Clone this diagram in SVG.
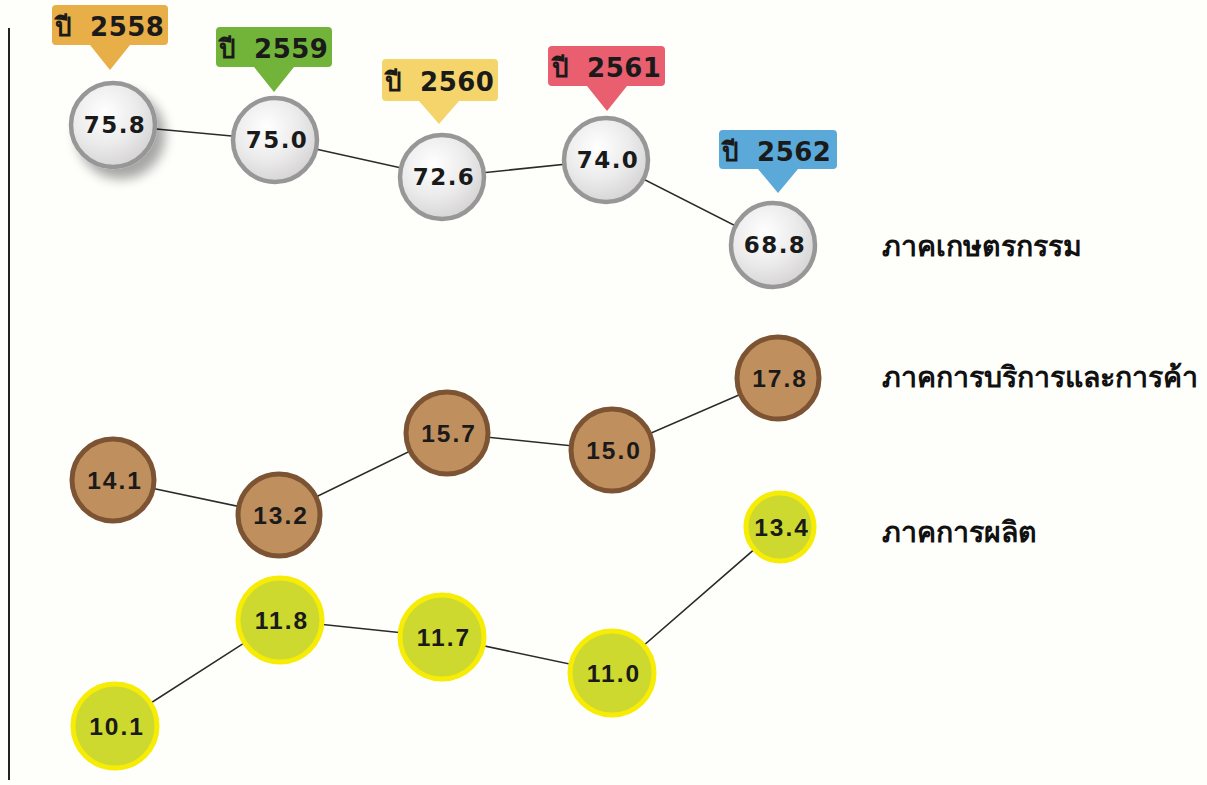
<svg xmlns="http://www.w3.org/2000/svg" width="1207" height="785" viewBox="0 0 1207 785">
<defs>
<radialGradient id="gw" cx="0.4" cy="0.35" r="0.7">
<stop offset="0" stop-color="#ffffff"/>
<stop offset="0.55" stop-color="#ecebeb"/>
<stop offset="1" stop-color="#d3d1d1"/>
</radialGradient>
<filter id="sh" x="-50%" y="-50%" width="200%" height="200%">
<feGaussianBlur in="SourceAlpha" stdDeviation="6"/>
<feOffset dx="8" dy="10" result="b"/>
<feComponentTransfer><feFuncA type="linear" slope="0.35"/></feComponentTransfer>
<feMerge><feMergeNode/><feMergeNode in="SourceGraphic"/></feMerge>
</filter>
</defs>
<style>
.g{fill:url(#gw);stroke:#979797;stroke-width:4.5}
.b{fill:#C08F5E;stroke:#7C5434;stroke-width:5}
.y{fill:#CDD92E;stroke:#F6EC05;stroke-width:5}
.gn{font-family:"DejaVu Sans",sans-serif;font-weight:bold;font-size:23px;fill:#1a1a1a;text-anchor:middle;letter-spacing:1.5px}
.bn{font-family:"Liberation Sans",Arial,sans-serif;font-weight:bold;font-size:24.5px;fill:#1a1a1a;text-anchor:middle;letter-spacing:2px}
.yr{font-family:"DejaVu Sans","Noto Sans",sans-serif;font-weight:bold;font-size:26px;fill:#1a1a1a;letter-spacing:0.5px;word-spacing:8px}
.th{font-family:"Noto Sans","DejaVu Sans",sans-serif;font-weight:bold;font-size:28.5px;fill:#111}
.ln{stroke:#2a2a2a;stroke-width:1.6;fill:none}
</style>
<rect width="1207" height="785" fill="#FEFEFB"/>
<line x1="9" y1="28" x2="9" y2="780" stroke="#222" stroke-width="2"/>
<g id="connectors">
<polyline class="ln" points="113,125 275,140 442,177 606,160 773,245"/>
<polyline class="ln" points="113,480 279,515 447,433 612,450 778,378"/>
<polyline class="ln" points="115,726 280,620 442,637 612,673 780,527"/>
</g>
<g id="tag2558"><path d="M56,5 H164 a4,4 0 0 1 4,4 V41 a4,4 0 0 1 -4,4 H130 L110,70 L90,45 H56 a4,4 0 0 1 -4,-4 V9 a4,4 0 0 1 4,-4 Z" fill="#E8AE47"/><text class="yr" x="55" y="36">ปี 2558</text></g>
<g id="tag2559"><path d="M220,27 H328 a4,4 0 0 1 4,4 V63 a4,4 0 0 1 -4,4 H294 L274,92 L254,67 H220 a4,4 0 0 1 -4,-4 V31 a4,4 0 0 1 4,-4 Z" fill="#72B43A"/><text class="yr" x="219" y="58">ปี 2559</text></g>
<g id="tag2560"><path d="M386,59 H494 a4,4 0 0 1 4,4 V97 a4,4 0 0 1 -4,4 H459 L439,124 L419,101 H386 a4,4 0 0 1 -4,-4 V63 a4,4 0 0 1 4,-4 Z" fill="#F5D56B"/><text class="yr" x="385" y="91">ปี 2560</text></g>
<g id="tag2561"><path d="M552,46 H661 a4,4 0 0 1 4,4 V82 a4,4 0 0 1 -4,4 H627 L607,111 L587,86 H552 a4,4 0 0 1 -4,-4 V50 a4,4 0 0 1 4,-4 Z" fill="#E95F6F"/><text class="yr" x="552" y="77">ปี 2561</text></g>
<g id="tag2562"><path d="M723,130 H833 a4,4 0 0 1 4,4 V165 a4,4 0 0 1 -4,4 H798 L778,193 L758,169 H723 a4,4 0 0 1 -4,-4 V134 a4,4 0 0 1 4,-4 Z" fill="#5AA9D8"/><text class="yr" x="722" y="161">ปี 2562</text></g>
<g id="a1"><circle class="g" cx="113" cy="125" r="42" filter="url(#sh)"/><text class="gn" x="115" y="133">75.8</text></g>
<g id="a2"><circle class="g" cx="275" cy="140" r="42"/><text class="gn" x="277" y="148">75.0</text></g>
<g id="a3"><circle class="g" cx="442" cy="177" r="42"/><text class="gn" x="444" y="185">72.6</text></g>
<g id="a4"><circle class="g" cx="606" cy="160" r="42"/><text class="gn" x="608" y="168">74.0</text></g>
<g id="a5"><circle class="g" cx="773" cy="245" r="42"/><text class="gn" x="775" y="253">68.8</text></g>
<g id="s1"><circle class="b" cx="113" cy="480" r="41"/><text class="bn" x="115" y="489">14.1</text></g>
<g id="s2"><circle class="b" cx="279" cy="515" r="41"/><text class="bn" x="281" y="524">13.2</text></g>
<g id="s3"><circle class="b" cx="447" cy="433" r="41"/><text class="bn" x="449" y="442">15.7</text></g>
<g id="s4"><circle class="b" cx="612" cy="450" r="41"/><text class="bn" x="614" y="459">15.0</text></g>
<g id="s5"><circle class="b" cx="778" cy="378" r="41"/><text class="bn" x="780" y="387">17.8</text></g>
<g id="m1"><circle class="y" cx="115" cy="726" r="42"/><text class="bn" x="117" y="735">10.1</text></g>
<g id="m2"><circle class="y" cx="280" cy="620" r="42"/><text class="bn" x="282" y="629">11.8</text></g>
<g id="m3"><circle class="y" cx="442" cy="637" r="42"/><text class="bn" x="444" y="646">11.7</text></g>
<g id="m4"><circle class="y" cx="612" cy="673" r="42"/><text class="bn" x="614" y="682">11.0</text></g>
<g id="m5"><circle class="y" cx="780" cy="527" r="34"/><text class="bn" x="782" y="536">13.4</text></g>
<g id="lab1"><text class="th" x="882" y="256">ภาคเกษตรกรรม</text></g>
<g id="lab2"><text class="th" x="882" y="387">ภาคการบริการและการค้า</text></g>
<g id="lab3"><text class="th" x="882" y="542">ภาคการผลิต</text></g>
</svg>
